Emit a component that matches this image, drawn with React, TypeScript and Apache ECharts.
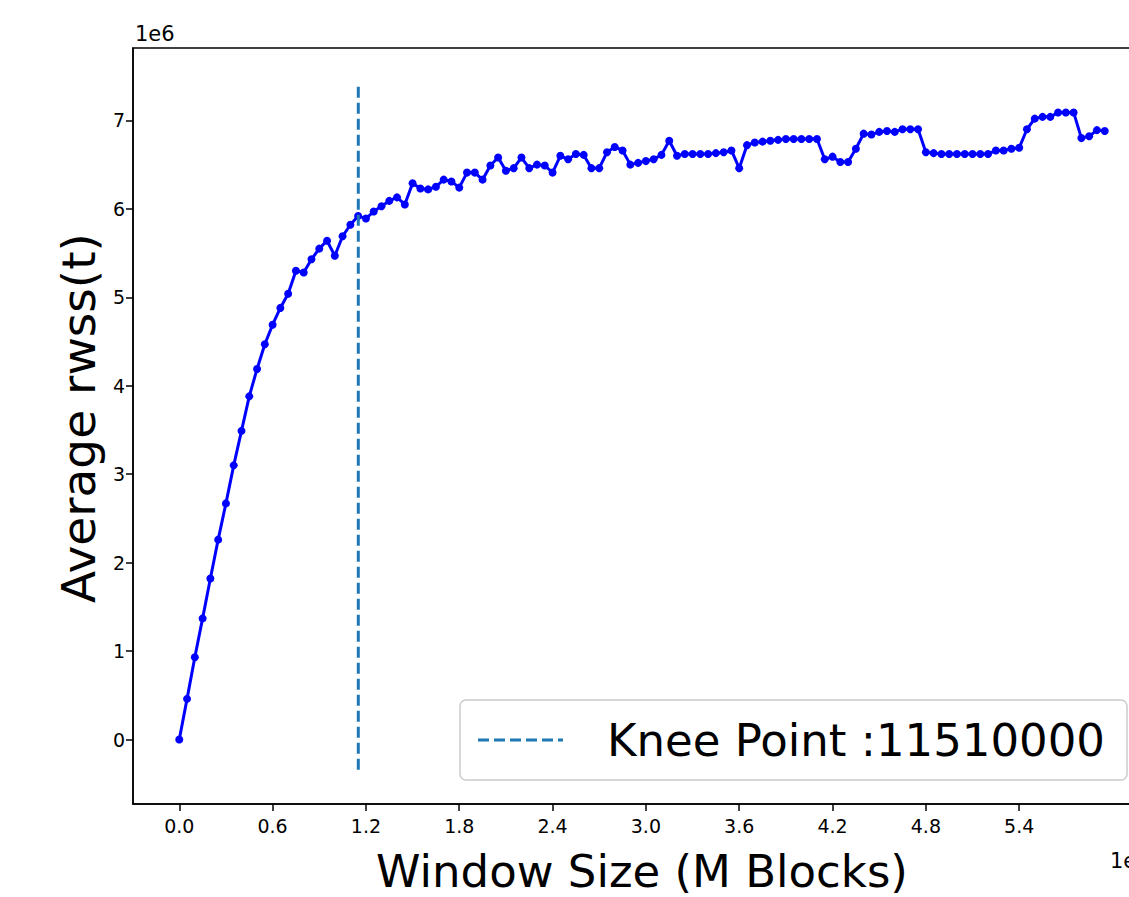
import React, { useEffect, useRef } from "react";
import * as echarts from "echarts";

// Window size, in millions of blocks (axis offset 1e6)
const windowSizesM = [
  0, 0.05, 0.1, 0.15, 0.2, 0.25, 0.3, 0.35, 0.4, 0.45,
  0.5, 0.55, 0.6, 0.65, 0.7, 0.75, 0.8, 0.85, 0.9, 0.95,
  1.0, 1.05, 1.1, 1.15, 1.2, 1.25, 1.3, 1.35, 1.4, 1.45,
  1.5, 1.55, 1.6, 1.65, 1.7, 1.75, 1.8, 1.85, 1.9, 1.95,
  2.0, 2.05, 2.1, 2.15, 2.2, 2.25, 2.3, 2.35, 2.4, 2.45,
  2.5, 2.55, 2.6, 2.65, 2.7, 2.75, 2.8, 2.85, 2.9, 2.95,
  3.0, 3.05, 3.1, 3.15, 3.2, 3.25, 3.3, 3.35, 3.4, 3.45,
  3.5, 3.55, 3.6, 3.65, 3.7, 3.75, 3.8, 3.85, 3.9, 3.95,
  4.0, 4.05, 4.1, 4.15, 4.2, 4.25, 4.3, 4.35, 4.4, 4.45,
  4.5, 4.55, 4.6, 4.65, 4.7, 4.75, 4.8, 4.85, 4.9, 4.95,
  5.0, 5.05, 5.1, 5.15, 5.2, 5.25, 5.3, 5.35, 5.4, 5.45,
  5.5, 5.55, 5.6, 5.65, 5.7, 5.75, 5.8, 5.85, 5.9, 5.95,
];

// Average rwss(t), in millions (axis offset 1e6)
const avgRwssM = [
  0.0, 0.46, 0.93, 1.37, 1.82, 2.26, 2.67, 3.1, 3.49, 3.88,
  4.19, 4.47, 4.69, 4.88, 5.04, 5.3, 5.28, 5.43, 5.55, 5.64,
  5.47, 5.69, 5.82, 5.92, 5.89, 5.97, 6.03, 6.09, 6.13, 6.05,
  6.29, 6.23, 6.22, 6.25, 6.33, 6.31, 6.24, 6.41, 6.41, 6.33,
  6.49, 6.58, 6.43, 6.46, 6.58, 6.46, 6.5, 6.49, 6.41, 6.6,
  6.56, 6.62, 6.61, 6.46, 6.46, 6.64, 6.7, 6.66, 6.5, 6.52,
  6.54, 6.56, 6.61, 6.77, 6.6, 6.62, 6.62, 6.62, 6.62, 6.63,
  6.64, 6.66, 6.46, 6.72, 6.75, 6.76, 6.77, 6.78, 6.79, 6.79,
  6.79, 6.79, 6.79, 6.56, 6.59, 6.53, 6.53, 6.68, 6.85, 6.84,
  6.87, 6.88, 6.87, 6.9, 6.9, 6.9, 6.64, 6.63, 6.62, 6.62,
  6.62, 6.62, 6.62, 6.62, 6.62, 6.66, 6.66, 6.68, 6.69, 6.9,
  7.02, 7.04, 7.04, 7.09, 7.09, 7.09, 6.8, 6.82, 6.89, 6.88,
];

const kneeX = 1.151;
const kneeLineY = [-0.34, 7.43];
const kneeLabel = "Knee Point :11510000";

const xTickValues = [0, 0.6, 1.2, 1.8, 2.4, 3.0, 3.6, 4.2, 4.8, 5.4];
const yTickValues = [0, 1, 2, 3, 4, 5, 6, 7];

const xTitle = "Window Size (M Blocks)";
const yTitle = "Average rwss(t)";
const offsetText = "1e6";

const FONT = "'DejaVu Sans', sans-serif";

export default function App() {
  const ref = useRef<HTMLDivElement>(null);

  useEffect(() => {
    if (!ref.current) return;
    const chart = echarts.init(ref.current, undefined, { renderer: "svg" });
    const gridLeft = 133;
    const gridTop = 48;
    const gridWidth = 1018;
    const gridHeight = 756;

    chart.setOption({
      animation: false,
      backgroundColor: "#ffffff",
      grid: {
        left: gridLeft,
        top: gridTop,
        width: gridWidth,
        height: gridHeight,
        show: true,
        borderColor: "#000000",
        borderWidth: 1.5,
        backgroundColor: "transparent",
      },
      xAxis: {
        type: "value",
        min: -0.2975,
        max: 6.2475,
        splitLine: { show: false },
        axisLine: { show: true, onZero: false, lineStyle: { color: "#000", width: 1.5 } },
        axisTick: {
          show: true,
          length: 7,
          inside: false,
          customValues: xTickValues,
          lineStyle: { color: "#000", width: 1.5 },
        },
        axisLabel: {
          customValues: xTickValues,
          formatter: (v: number) => v.toFixed(1),
          color: "#000",
          fontFamily: FONT,
          fontSize: 19,
          margin: 12,
        },
      },
      yAxis: {
        type: "value",
        min: -0.7285,
        max: 7.8185,
        splitLine: { show: false },
        axisLine: { show: true, onZero: false, lineStyle: { color: "#000", width: 1.5 } },
        axisTick: {
          show: true,
          length: 7,
          inside: false,
          customValues: yTickValues,
          lineStyle: { color: "#000", width: 1.5 },
        },
        axisLabel: {
          customValues: yTickValues,
          formatter: (v: number) => String(Math.round(v)),
          color: "#000",
          fontFamily: FONT,
          fontSize: 19,
          margin: 8,
        },
      },
      series: [
        {
          type: "line",
          name: "rwss",
          data: windowSizesM.map((x, i) => [x, avgRwssM[i]]),
          symbol: "circle",
          symbolSize: 8,
          showAllSymbol: true,
          lineStyle: { color: "#0000ff", width: 3 },
          itemStyle: { color: "#0000ff" },
          z: 2,
        },
        {
          type: "line",
          name: kneeLabel,
          data: [
            [kneeX, kneeLineY[0]],
            [kneeX, kneeLineY[1]],
          ],
          symbol: "none",
          lineStyle: { color: "#1f77b4", width: 3, type: [11, 5] },
          z: 3,
        },
      ],
      graphic: [
        {
          type: "text",
          left: 135,
          top: 23,
          style: { text: offsetText, font: `21px ${FONT}`, fill: "#000" },
        },
        {
          type: "text",
          left: 1110,
          top: 850,
          style: { text: offsetText, font: `21px ${FONT}`, fill: "#000" },
        },
        {
          type: "text",
          x: gridLeft + gridWidth / 2,
          y: 871,
          style: {
            text: xTitle,
            font: `45px ${FONT}`,
            fill: "#000",
            align: "center",
            verticalAlign: "middle",
          },
        },
        {
          type: "text",
          x: 78,
          y: 418,
          rotation: Math.PI / 2,
          style: {
            text: yTitle,
            font: `47px ${FONT}`,
            fill: "#000",
            align: "center",
            verticalAlign: "middle",
          },
        },
        {
          type: "group",
          children: [
            {
              type: "rect",
              shape: { x: 460, y: 700, width: 667, height: 80, r: 6 },
              style: { fill: "rgba(255,255,255,0.8)", stroke: "#cccccc", lineWidth: 1.5 },
            },
            {
              type: "line",
              shape: { x1: 478, y1: 740, x2: 563, y2: 740 },
              style: { stroke: "#1f77b4", lineWidth: 3, lineDash: [11, 5] },
            },
            {
              type: "text",
              x: 607,
              y: 740,
              style: {
                text: kneeLabel,
                font: `45px ${FONT}`,
                fill: "#000",
                align: "left",
                verticalAlign: "middle",
              },
            },
          ],
        },
      ],
    });

    return () => {
      chart.dispose();
    };
  }, []);

  return (
    <div
      style={{
        position: "fixed",
        left: 0,
        top: 0,
        width: 1129,
        height: 897,
        overflow: "hidden",
        background: "#ffffff",
      }}
    >
      <div ref={ref} style={{ width: 1180, height: 897 }} />
    </div>
  );
}
